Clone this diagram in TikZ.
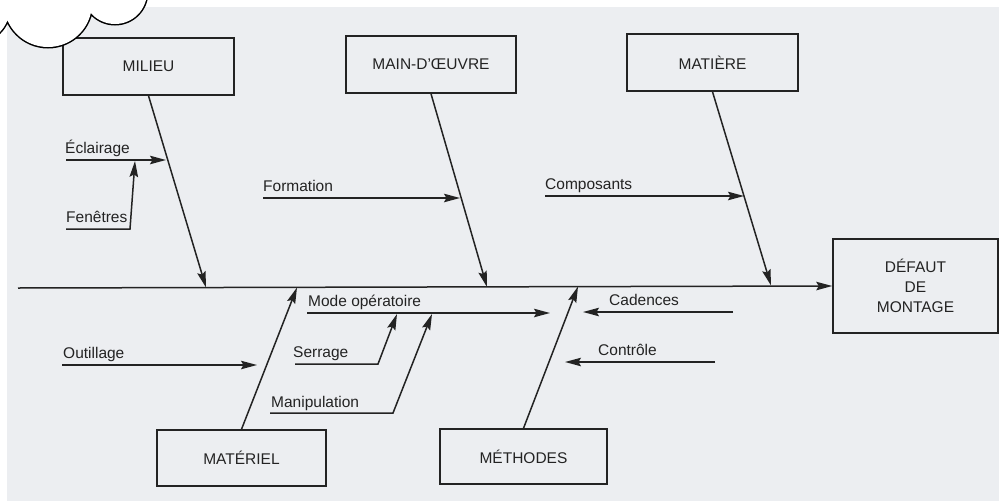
\documentclass[tikz,border=0pt]{standalone}
\usepackage{fontspec}
\setmainfont{Liberation Sans}
\usetikzlibrary{arrows.meta}
\definecolor{bg}{RGB}{236,238,241}
\definecolor{ink}{RGB}{35,35,35}
\begin{document}
\begin{tikzpicture}[x=1pt,y=-1pt,
  arr/.style={draw=ink, line width=1.5pt, -{Stealth[length=16pt,width=8.5pt,inset=2.5pt]}},
  box/.style={draw=ink, line width=1.5pt, inner sep=0pt, font=\fontsize{15.5}{20}\selectfont, text=ink, align=center},
  lab/.style={anchor=base west, inner sep=0pt, font=\fontsize{15.5}{19}\selectfont, text=ink}]
\useasboundingbox (0,0) rectangle (999,501);
\clip (0,0) rectangle (999,501);
\fill[white] (0,0) rectangle (999,501);
\fill[bg] (7,7) rectangle (999,501);

% boxes
\node[box, minimum width=171pt, minimum height=57pt] (milieu) at (148.5,66.5) {MILIEU};
\node[box, minimum width=170pt, minimum height=57pt] (mo) at (431,64.5) {MAIN-D’ŒUVRE};
\node[box, minimum width=171pt, minimum height=57pt] (matiere) at (712.5,62.5) {MATIÈRE};
\node[box, minimum width=165pt, minimum height=94pt] (defaut) at (915.5,286) {DÉFAUT\\DE\\MONTAGE};
\node[box, minimum width=169pt, minimum height=56pt] (materiel) at (241.5,458) {MATÉRIEL};
\node[box, minimum width=167pt, minimum height=55pt] (methodes) at (523.5,456.5) {MÉTHODES};

% spine
\coordinate (spL) at (18,288);
\draw[arr] (spL) -- (defaut.west);

% main branches
\coordinate (bm) at (206,287.5);
\coordinate (bo) at (487,287);
\coordinate (bt) at (771,285.5);
\coordinate (be) at (297,287.5);
\coordinate (bh) at (578,286.5);
\draw[arr] (milieu.south) -- (bm);
\draw[arr] (mo.south) -- (bo);
\draw[arr] (matiere.south) -- (bt);
\draw[arr] (materiel.north) -- (be);
\draw[arr] (methodes.north) -- (bh);

% sub-branches
\coordinate (e0) at (66,160);  \coordinate (e1) at (166,160);
\draw[arr] (e0) -- (e1);
\node[lab] (leclairage) at (65,153) {Éclairage};

\coordinate (f0) at (66,229); \coordinate (f1) at (130,229); \coordinate (f2) at (135,161);
\draw[arr] (f0) -- (f1) -- (f2);
\node[lab] (lfenetres) at (66,222) {Fenêtres};

\coordinate (fo0) at (263,198); \coordinate (fo1) at (460,198);
\draw[arr] (fo0) -- (fo1);
\node[lab] (lformation) at (263,191) {Formation};

\coordinate (c0) at (545,196); \coordinate (c1) at (744,196);
\draw[arr] (c0) -- (c1);
\node[lab] (lcomposants) at (545,189) {Composants};

\coordinate (o0) at (62,365); \coordinate (o1) at (257,365);
\draw[arr] (o0) -- (o1);
\node[lab] (loutillage) at (63,358) {Outillage};

\coordinate (mo0) at (307,313); \coordinate (mo1) at (550,313);
\draw[arr] (mo0) -- (mo1);
\node[lab] (lmode) at (308,306) {Mode opératoire};

\coordinate (s0) at (295,364); \coordinate (s1) at (378,364); \coordinate (s2) at (397,314);
\draw[arr] (s0) -- (s1) -- (s2);
\node[lab] (lserrage) at (293,357) {Serrage};

\coordinate (m0) at (270,413); \coordinate (m1) at (393,413); \coordinate (m2) at (432,314);
\draw[arr] (m0) -- (m1) -- (m2);
\node[lab] (lmanip) at (271,407) {Manipulation};

\coordinate (ca0) at (733,312); \coordinate (ca1) at (583,312);
\draw[arr] (ca0) -- (ca1);
\node[lab] (lcadences) at (609,305) {Cadences};

\coordinate (ct0) at (715,362); \coordinate (ct1) at (565,362);
\draw[arr] (ct0) -- (ct1);
\node[lab] (lcontrole) at (598,355) {Contrôle};

% cloud overlay (top-left)
\draw[black, line width=3pt, fill=white]
  (-26,7) circle[radius=36pt] (48,3) circle[radius=44pt] (115,-8) circle[radius=32pt];
\fill[white]
  (-26,7) circle[radius=36pt] (48,3) circle[radius=44pt] (115,-8) circle[radius=32pt];
\end{tikzpicture}
\end{document}
